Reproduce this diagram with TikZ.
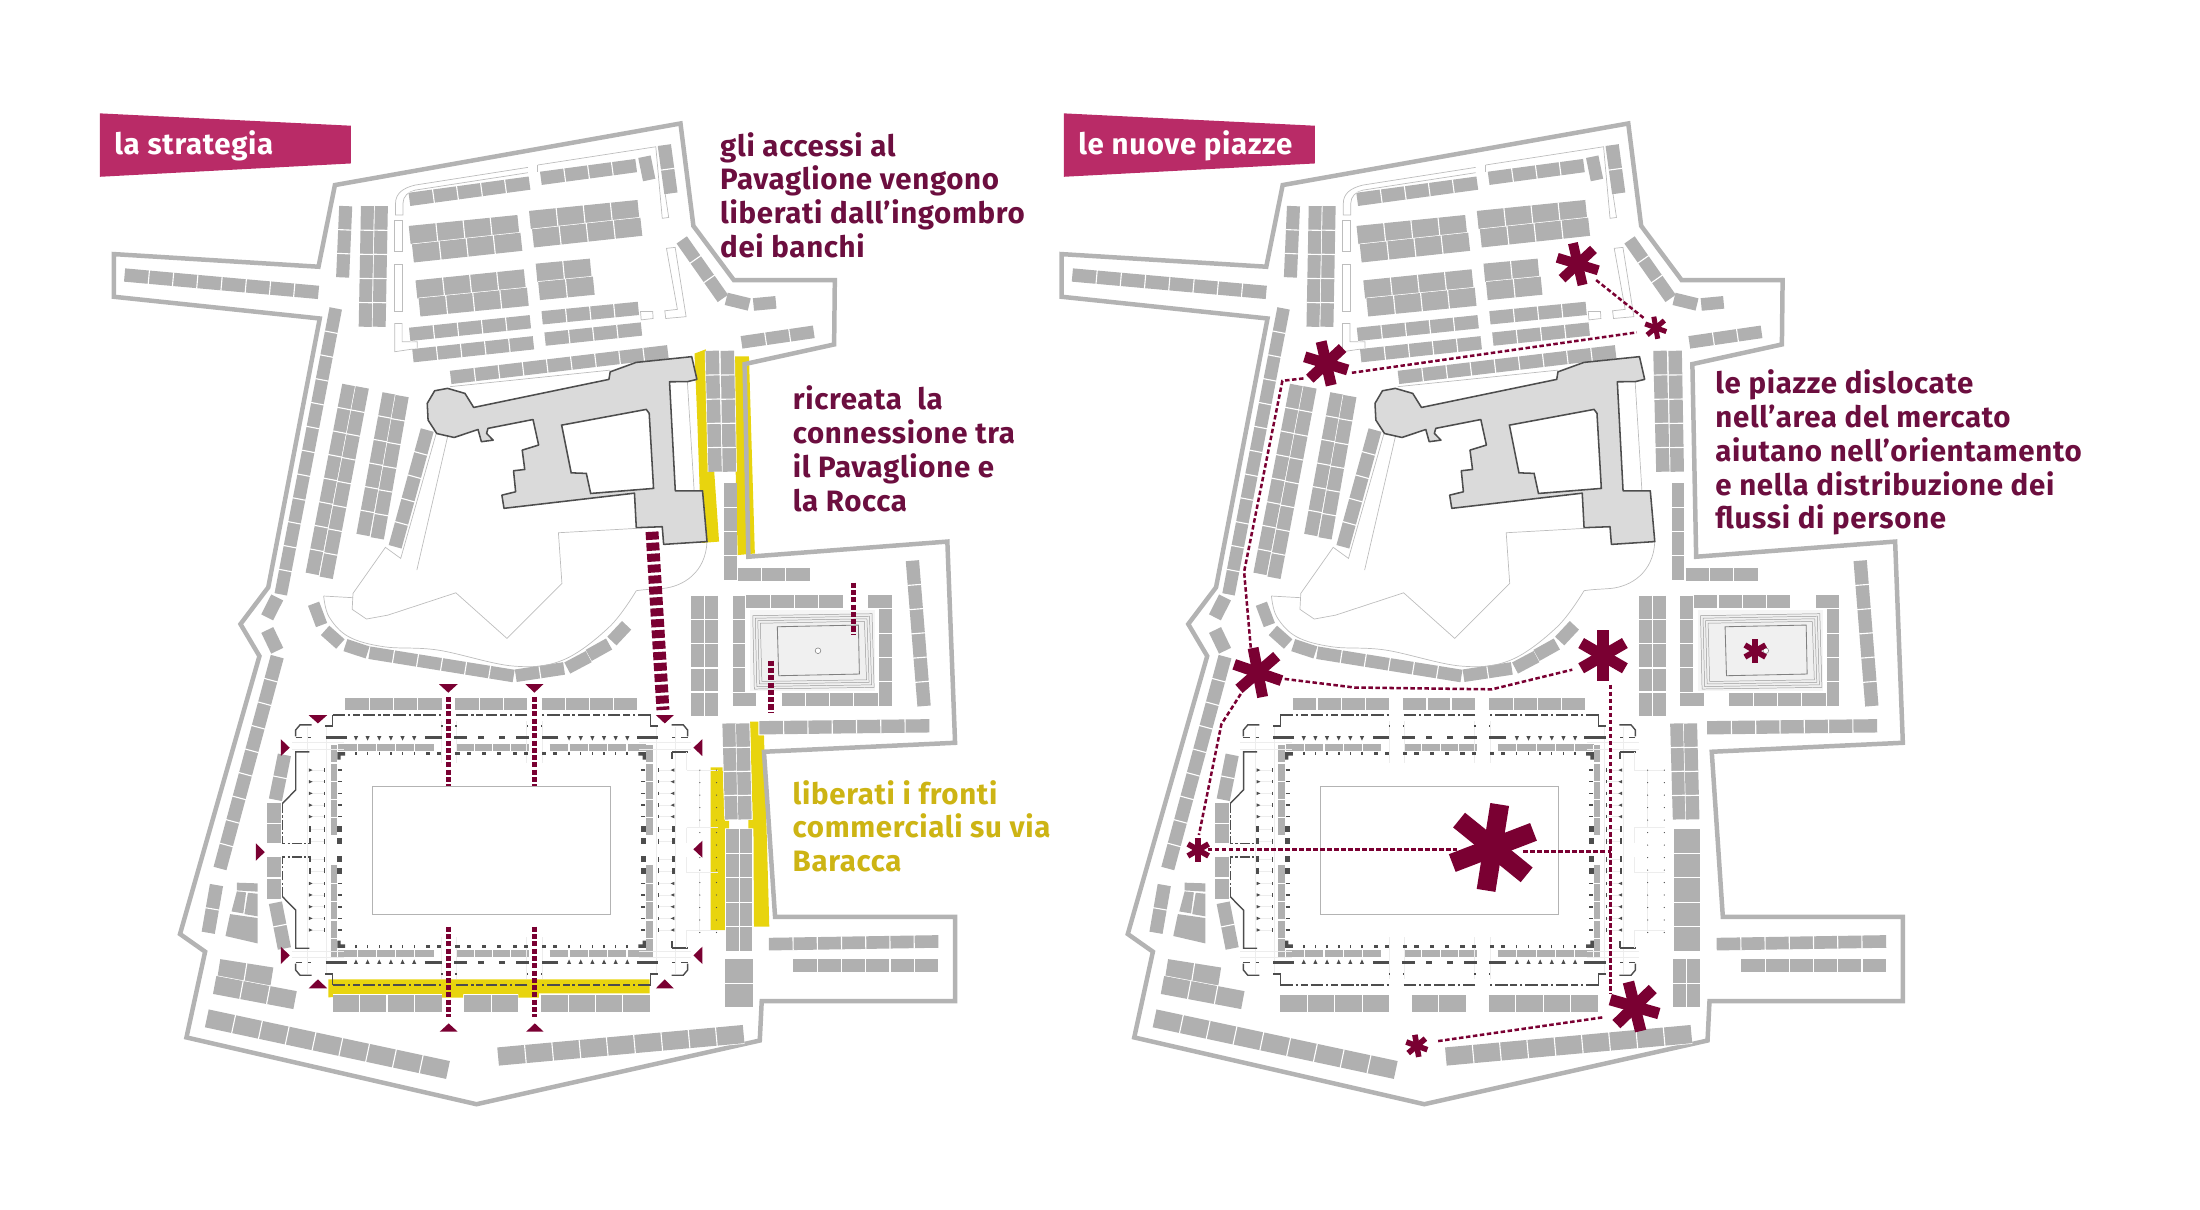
\documentclass[tikz,border=0pt]{standalone}
\usepackage{fontspec}
\setmainfont{Fira Sans}[LetterSpace=2.3]
\definecolor{wallc}{HTML}{B3B3B3}
\definecolor{stallc}{HTML}{B0B0B0}
\definecolor{bldc}{HTML}{DADADA}
\definecolor{darkc}{HTML}{4D4D4D}
\definecolor{redc}{HTML}{7A0032}
\definecolor{tagc}{HTML}{B92B67}
\definecolor{txtc}{HTML}{6C0E3F}
\definecolor{goldc}{HTML}{CDB414}
\definecolor{yelc}{HTML}{E8D40E}
\definecolor{thinc}{HTML}{BDBDBD}
\definecolor{faintc}{HTML}{EDEDED}
\tikzset{
 wallline/.style={draw=wallc,line width=3.2,line join=miter},
 thinline/.style={draw=thinc,line width=.5},
 boxline/.style={draw=thinc,line width=.5,fill=white},
 faintline/.style={draw=faintc,line width=.5},
 darkdash/.style={draw=darkc,line width=1,dash pattern=on 9pt off 2pt on 1.6pt off 2pt on 5pt off 2pt},
 darkline/.style={draw=darkc,line width=1},
 thickbar/.style={draw=darkc,line width=2},
 bigdash/.style={draw=redc,line width=9.2,dash pattern=on 5.7pt off 2.1pt},
 meddash/.style={draw=redc,line width=3.7,dash pattern=on 3.6pt off 1.6pt},
 route/.style={draw=redc,line width=1.8,dash pattern=on 3.2pt off 1.8pt},
 txtline/.style={anchor=base west,inner sep=0pt,xshift=-.6pt,yshift=-.7pt,font=\fontsize{21}{24}\selectfont\bfseries},
}
\newcommand\srow[6]{%
 \draw[white,line width={#6+1}] (#1,#2)--(#3,#4);
 \draw[stallc,line width=#6] (#1,#2)--(#3,#4);
 \pgfmathtruncatemacro\nm{#5-1}%
 \ifnum\nm>0
 \pgfmathsetmacro\rlen{veclen(#3-#1,#4-#2)}%
 \pgfmathsetmacro\perx{-(#4-#2)/\rlen*(#6/2+.3)}%
 \pgfmathsetmacro\pery{(#3-#1)/\rlen*(#6/2+.3)}%
 \foreach \k in {1,...,\nm}{%
  \pgfmathsetmacro\ptx{#1+(#3-#1)*\k/#5}%
  \pgfmathsetmacro\pty{#2+(#4-#2)*\k/#5}%
  \draw[white,line width=.8] (\ptx-\perx,\pty-\pery)--(\ptx+\perx,\pty+\pery);
 }%
 \fi
}
\newcommand\astk[5]{%
 \foreach \a in {0,60,120}{%
  \pgfmathsetmacro\ax{#3*sin(#5+\a)}%
  \pgfmathsetmacro\ay{#3*cos(#5+\a)}%
  \draw[redc,line width=#4] (#1+\ax,#2-\ay)--(#1-\ax,#2+\ay);
 }%
}
\newcommand\marketq{%
 \foreach \sx in {1,-1}{\foreach \sy in {1,-1}{%
 \begin{scope}[shift={(350.4,605.85)},xscale=\sx,yscale=\sy]
  % faint corridors
  \foreach \d in {-57,-48.7,-40.4,-32,-23.8,-14.9,-6.4}{\draw[faintline] (-129,\d)--(-119,\d);}
  \draw[faintline] (-131,-88)--(-131,0) (-117.5,-88)--(-117.5,0);
  \draw[faintline] (-142,-76.5)--(-105,-76.5) (-142,-72)--(-105,-72);
  \draw[faintline] (-36,-92)--(-36,-62) (-25,-92)--(-25,-62);
  % outer dash-dot line
  \draw[darkdash] (-113.4,-96.15)--(-35.7,-96.15);
  \draw[darkdash] (-25.5,-96.15)--(0,-96.15);
  \draw[darkline] (-113.4,-96.15)--(-113.4,-88.3)--(-118.8,-88.3);
  \draw[darkline] (-139.7,-81)--(-139.7,-85.5)--(-136.6,-89.2)--(-128.3,-89.2);
  \draw[darkline] (-139.7,-80.2)--(-135,-80.2) (-131,-80.2)--(-128.5,-80.2);
  \draw[darkline] (-36,-88.3)--(-35,-88.3) (-26,-88.3)--(-25,-88.3);
  % thick bars
  \draw[thickbar] (-118.4,-80.25)--(-103.4,-80.25) (-47.5,-80.25)--(-35.6,-80.25) (-26.7,-80.25)--(-17.4,-80.25) (-9.5,-80.25)--(-5.5,-80.25);
  \foreach \k in {0,...,5}{
   \fill[darkc] (-98.2+8.3*\k,-81.2)--(-95.2+8.3*\k,-81.2)--(-96.7+8.3*\k,-78)--cycle;
   \draw[darkline] (-96.6+8.3*\k,-70)--(-96.6+8.3*\k,-67.5);
  }
  % inner ring
  \fill[darkc] (-110,-69.8)--(-104.5,-69.8)--(-104.5,-67.3)--(-107.6,-67.3)--(-107.6,-64.5)--(-110,-64.5)--cycle;
  \foreach \d in {-45.4,-37.4,-24.4,-16.4,-5.4}{\fill[darkc] (\d-1.5,-70)rectangle(\d+1.5,-67.6);}
  \foreach \d in {-57,-48.7,-40.4,-32,-23.8}{
   \draw[darkc,line width=1.1] (-109.6,\d)--(-106.6,\d);
   \fill[darkc] (-130.2,\d-1.2)--(-130.2,\d+1.2)--(-127.6,\d)--cycle;
   \draw[darkc,line width=.8] (-119,\d-1.2)--(-119,\d+1.2);
  }
  \foreach \d in {-14.9,-6.4}{
   \fill[darkc] (-110,\d-2)rectangle(-106.8,\d+2);
   \fill[darkc] (-130.4,\d-2)rectangle(-128.6,\d+2);
   \draw[darkc,line width=.8] (-119,\d-1.8)--(-119,\d+1.8);
  }
 \end{scope}}}%
 % west wall
 \foreach \sy in {1,-1}{%
 \begin{scope}[shift={(350.4,605.85)},yscale=\sy]
  \draw[darkline] (-129.9,-70)--(-139.6,-70)--(-139.6,-42.9)--(-149,-33.3);
  \draw[darkc,line width=.9,dash pattern=on 7pt off 1.6pt on 1.5pt off 1.6pt] (-149,-33.3)--(-149,-4.9)--(-130,-4.9);
  \draw[darkc,line width=1.1] (128.6,-70)--(140,-70) (128.6,-70)--(128.6,-65);
  \draw[faintline] (139,-57)--(161,-57) (139,-57)--(139,-70) (148,-57)--(148,-16) (139,-16)--(148,-16) (139,-16)--(139,-5) (148,-16)--(161,-16);
 \end{scope}}%
 \foreach \k in {0,...,13}{%
  \fill[darkc] (498.8,548.9+8.9*\k) circle (.45);
  \fill[darkc] (510.7,548.9+8.9*\k) circle (.45);
 }%
 \draw[draw=wallc,line width=.8] (265.6,560.3) rectangle (435.1,651.7);
}
\newcommand\plan{%
 % outer wall
 \draw[wallline] (238.7,131.9)--(485,88)--(494.2,161)--(523,199.6)--(595,199.6)--(594.5,245.5)--(530.7,259.5)--(533.4,396.8)--(675.2,386)--(680.7,529.4)--(544.5,535.8)--(552.4,653.4)--(680.7,653.4)--(680.7,713.5)--(542.9,713.5)--(541.5,741.6)--(339.6,787)--(132.9,739.4)--(146.2,678.3)--(128.3,665.7)--(184.9,467.6)--(171.4,444.8)--(191.2,418.6)--(227.9,227)--(81.1,211.5)--(81.1,181.1)--(227,190.1)--cycle;
 % thin north-market outlines
 \draw[boxline] (376.2,119.3)--(295.9,131.9)..controls (287,134) and (281.9,138)..(281.9,145)--(281.9,153.3)--(287.2,153.3)--(287.2,145)..controls (287.2,140) and (291,136.5)..(295.9,135.5)--(376.2,123.1);
 \draw[thinline] (383.3,117.6)--(467.4,104.6)--(472,155.6)--(476.6,155)--(473.5,134.3);
 \draw[thinline] (383.3,117.6)--(383.3,122.4);
 \draw[boxline] (281.3,156.8) rectangle (286.9,179.4);
 \draw[boxline] (281.3,188.2) rectangle (286.6,222.2);
 \draw[boxline] (281.3,230.5)--(286.6,230.5)--(286.6,243.6)--(297.4,243.6)--(297.4,248.3)--(281.3,250.7)--cycle;
 \draw[boxline] (475,177)--(481.2,176.3)--(489,225.7)--(474.5,227)--(473.8,221.5)--(482.8,220.5)--cycle;
 \draw[boxline] (456.5,222)--(465.2,222)--(465.5,227)--(457,228)--cycle;
 \draw[thinline] (320.6,275.6)--(434.9,263.8);
 % stalls north
 \srow{88.8}{196}{227}{208.4}{8}{9.5}
 \srow{246.4}{146.9}{244.2}{197.7}{3}{9.3}
 \srow{261.9}{146.9}{260.3}{232.9}{5}{9.3}
 \srow{271.8}{146.9}{270.2}{232.9}{5}{9.3}
 \srow{291.8}{142.1}{377.4}{130.5}{5}{9.5}
 \srow{385.5}{127.1}{453.4}{118}{4}{9.5}
 \srow{459.3}{111.7}{462.7}{128.3}{1}{9}
 \srow{473.5}{103.4}{478.2}{137.8}{2}{9.5}
 \srow{292}{167.5}{369.4}{159.7}{4}{13}
 \srow{294.3}{180.6}{371.6}{172.3}{4}{13}
 \srow{377.7}{156.8}{455}{149}{4}{13}
 \srow{379.9}{169.9}{457.1}{161.6}{4}{13}
 \srow{296.8}{206.3}{374}{198.4}{4}{13}
 \srow{299}{219.1}{376.2}{211.5}{4}{13}
 \srow{382.4}{194.4}{421}{190.8}{2}{13}
 \srow{384.2}{207.4}{423.2}{203.6}{2}{13}
 \srow{292}{238.3}{378}{229.3}{5}{9.5}
 \srow{294.3}{253.5}{380.2}{244.3}{5}{9.5}
 \srow{386.4}{226.5}{455}{219.8}{4}{9.5}
 \srow{388.5}{241.7}{457.2}{234.5}{4}{9.5}
 \srow{321.2}{269}{476}{250.7}{9}{9.5}
 \srow{485.9}{171}{515.2}{212.7}{3}{9}
 \srow{517.6}{213}{534}{217}{1}{9}
 \srow{537}{217}{553}{215.5}{1}{9}
 \srow{528.5}{244}{580}{236.5}{3}{9}
 % stalls west
 \srow{239.3}{219.8}{200.1}{423.6}{12}{9}
 \srow{248.6}{274.4}{222.5}{409}{8}{9.5}
 \srow{258.2}{276.1}{232.5}{411.8}{8}{9.5}
 \srow{277.3}{280.4}{258.7}{381.3}{6}{9.5}
 \srow{286.6}{282.3}{268.9}{383.7}{6}{9.5}
 \srow{304.5}{306.5}{281.6}{389.7}{5}{9.5}
 \srow{197.6}{425.8}{190.4}{440}{1}{9.5}
 \srow{190.5}{449}{197.6}{463.8}{1}{9.5}
 \srow{197.6}{468}{156.8}{619}{9}{9.5}
 \srow{154.3}{630.8}{148.4}{664.8}{2}{9.5}
 \fill[stallc] (168.8,629.1)--(183.6,629.6)--(183.6,635.5)--(168.8,634.6)--cycle;
 \fill[stallc] (168.8,635.3)--(175.4,636)--(173.4,651)--(165,649.6)--cycle;
 \fill[stallc] (176.7,636.3)--(183.6,637)--(183.6,653.1)--(174.2,651.5)--cycle;
 \fill[stallc] (164,651.5)--(183.6,654.3)--(183.6,672.4)--(160.7,667.1)--cycle;
 \srow{156}{690}{193.8}{696}{2}{13}
 \srow{153}{702}{210.3}{712.8}{3}{13}
 \srow{147.4}{725.8}{319.3}{762.6}{9}{13}
 \srow{355}{753}{530}{737}{9}{13}
 % curved row south of the park
 \srow{223.5}{430.3}{229.2}{445.5}{1}{8.5}
 \srow{231.7}{449.3}{242.6}{459}{1}{9}
 \srow{246.2}{459.8}{262}{465}{1}{9}
 \srow{263.3}{465.2}{366.1}{481.8}{6}{9}
 \srow{367.6}{481.6}{402}{476.4}{2}{9}
 \srow{404.3}{476.1}{419.6}{468}{1}{9}
 \srow{419.6}{467.1}{434.1}{459}{1}{9}
 \srow{436.1}{456.9}{446.6}{445.7}{1}{9}
 % Piazza stalls
 \srow{246}{501.8}{314.7}{501.8}{4}{8.8}
 \srow{324.4}{501.8}{375.8}{501.8}{3}{8.8}
 \srow{386}{501.8}{454.2}{501.8}{4}{8.8}
 \srow{237}{715}{314.7}{715}{4}{12.4}
 \srow{330.7}{715}{369.4}{715}{2}{12.4}
 \srow{385.5}{715}{463.1}{715}{4}{12.4}
 \srow{240.9}{532.7}{309.1}{532.7}{5}{4.5}
 \srow{324.9}{532.7}{377}{532.7}{4}{4.5}
 \srow{391.8}{532.7}{460.6}{532.7}{5}{4.5}
 \srow{240.9}{679.5}{309.1}{679.5}{5}{4.5}
 \srow{324.9}{679.5}{377}{679.5}{4}{4.5}
 \srow{391.8}{679.5}{460.6}{679.5}{5}{4.5}
 \srow{238}{531}{238}{595.2}{5}{4.6}
 \srow{238}{616.5}{238}{681.9}{5}{4.6}
 \srow{462.9}{531}{462.9}{595.2}{5}{4.6}
 \srow{462.9}{616.5}{462.9}{681.9}{5}{4.6}
 \srow{202.7}{538}{196.3}{570}{2}{9.5}
 \srow{195.5}{572.6}{195.5}{601}{2}{10}
 \srow{195.5}{610.6}{195.5}{641}{2}{10}
 \srow{196.3}{643.4}{202.7}{676}{2}{9.5}
 % stalls east
 \srow{497.2}{424.6}{497.2}{510.4}{5}{9}
 \srow{507.2}{424.6}{507.2}{510.4}{5}{9}
 \srow{507.6}{250}{509.7}{336.2}{5}{9.6}
 \srow{518.4}{250}{519.9}{336.2}{5}{9.6}
 \srow{520.5}{344.5}{520.5}{413.4}{4}{9}
 \srow{525.8}{409.4}{577.3}{409.4}{3}{9}
 \srow{526.7}{424.6}{526.7}{493}{4}{9}
 \srow{531.7}{428.9}{600.6}{428.9}{4}{9}
 \srow{618.9}{428.9}{635.5}{428.9}{1}{9}
 \srow{631}{434}{631}{503}{4}{9}
 \srow{522.2}{498.5}{538.8}{498.5}{1}{9}
 \srow{557}{498.5}{625.6}{498.5}{4}{9}
 \srow{650.3}{399.6}{658.6}{503.2}{6}{9.5}
 \srow{541.2}{518.7}{662.4}{517.3}{7}{9.5}
 \srow{519.6}{515.6}{521.5}{584}{4}{9.5}
 \srow{529.3}{515.6}{531}{584}{4}{9.5}
 \srow{522.2}{591.1}{522.2}{677.6}{5}{9}
 \srow{531.7}{591.1}{531.7}{677.6}{5}{9}
 \srow{521.7}{683.8}{521.7}{717.6}{2}{9.5}
 \srow{531.7}{683.8}{531.7}{717.6}{2}{9.5}
 \srow{548}{672.9}{668.8}{671}{7}{9}
 \srow{565.4}{688.1}{668.8}{688.1}{6}{9}
 % park outlines
 \draw[thinline] (453.5,376.6)--(398,379.7)--(400.5,415.8)--(361.3,455)--(324.9,422.5)--(276.5,438.4)--(261.2,441.2)--(251,434.3)--(251.6,422.9)--(274.7,390.1)--(285.6,398)--(310.9,308.9);
 \draw[thinline] (297.1,406.3)--(319,311.3);
 \draw[thinline] (489.9,272)--(494.7,349.3);
 \draw[thinline] (230.7,424.8)--(251.6,426);
 \draw[thinline] plot[smooth,tension=.6] coordinates {(230.7,424.8)(234.5,439.6)(248.5,453.8)(274,461)(312,463.3)(365.6,474.7)(401.3,470.4)(434.4,446.7)(453.5,421)};
 \draw[thinline] (453.5,421)..controls (460,420) and (465,420)..(472.5,419.4)..controls (487,418) and (503,408)..(503.9,386);
 % Pavaglione
 \draw[fill=bldc,draw=darkc,line width=1.1,line join=round] (337.6,290.4)--(331.4,280.4)--(319,276.8)--(309.8,278.5)--(304.5,287.5)--(305.1,299.4)--(311.3,309)--(323.7,311.8)--(340.7,306.1)--(343.1,314.8)--(351.5,313.7)--(346.8,308.9)--(347.8,305.3)--(379.9,299)--(383.9,317.2)--(372.2,320.8)--(374,334.6)--(366,335.5)--(367.5,350.5)--(357.7,352.9)--(359.2,362.3)--(452.2,351.5)--(453.5,376.1)--(472,375.4)--(473,388)--(503.9,386)--(500.7,349.8)--(481.3,349.8)--(477.2,272.1)--(490,272)--(496.7,270.4)--(493,254.2)--(453.4,258.3)--(434.9,265)--(434,270.4)--cycle;
 \draw[fill=white,draw=darkc,line width=1.1] (400.3,303)--(460.6,291.8)--(462.7,294.6)--(465.8,348.1)--(421,351.7)--(417.9,337.4)--(407.1,337)--cycle;
 \draw[draw=darkc,line width=.4] (421,351.7)--(452.5,349.2);
 % fountain
 \fill[gray!8] (534.6,434.8) rectangle (623.7,492.3);
 \foreach \d in {0,1.8,3.6,5.4}{
  \draw[draw=gray!80,line width=.35,fill=gray!12] (536.5+\d,438.8+\d)--(621.5-\d,437.4+\d)--(623-\d,489.9-\d)--(537.6+\d,491.1-\d)--cycle;
 }
 \draw[draw=gray,line width=.6] (554,446.7)--(611.8,445.5)--(612.5,480.4)--(555,481.6)--cycle;
 \draw[draw=gray,line width=.4,fill=white] (583,463.8) circle (2);
 \marketq
}
\newcommand\rtri[6]{\fill[redc] (#1,#2)--(#3,#4)--(#5,#6)--cycle;}
\begin{document}
\begin{tikzpicture}[x=1pt,y=-1pt]
\useasboundingbox (0,0) rectangle (1568,861.7);
% left plan
\fill[yelc] (495,252)--(503,249)--(512.5,386)--(500,387)--(497,300)--cycle;
\fill[yelc] (522.3,254)--(533.8,254)--(538,394.5)--(525.8,395.6)--cycle;
\fill[yelc] (506.5,547)--(515,547)--(516.7,585)--(519.6,585)--(519.6,590.4)--(516.7,590.4)--(516.7,662.9)--(506.5,662.9)--cycle;
\fill[yelc] (534.6,514.4)--(540.5,514.4)--(540.5,524.1)--(544.5,524.1)--(548.3,660.5)--(537.4,660.5)--(537,590.4)--(533.4,590.4)--(533.4,584.5)--(536.5,584.5)--cycle;
\fill[yelc] (234,698)--(463,698)--(463,708)--(384,708)--(384,711)--(369.4,711)--(369.4,708.5)--(330,708.5)--(330,711)--(315,711)--(315,708.5)--(234,710.8)--cycle;
\plan
\draw[bigdash] (464.7,379)--(472.5,506);
\draw[meddash] (319.7,496.6)--(319.7,560.3);
\draw[meddash] (381,496.6)--(381,560.3);
\draw[meddash] (319.7,660.5)--(319.7,724.6);
\draw[meddash] (381,660.5)--(381,724.6);
\draw[meddash] (608.4,415.3)--(608.4,451.9);
\draw[meddash] (549.5,470.9)--(549.5,507.5);
\rtri{312.9}{487.6}{326.2}{487.6}{319.5}{493.7}
\rtri{374.5}{487.6}{387.3}{487.6}{380.9}{493.7}
\rtri{220}{509.7}{233.2}{509.7}{226.6}{515.6}
\rtri{467.5}{509.7}{480.2}{509.7}{473.8}{515.6}
\rtri{200.1}{526.8}{200.1}{538.9}{206.5}{532.9}
\rtri{182.3}{601}{182.3}{613.5}{188.7}{607.3}
\rtri{500.6}{526.8}{500.6}{538.9}{494.2}{532.9}
\rtri{500.6}{599.2}{500.6}{611.3}{494.2}{605.3}
\rtri{200.1}{674.7}{200.1}{687.1}{206.5}{680.9}
\rtri{500.6}{674.7}{500.6}{687.1}{494.2}{680.9}
\rtri{220}{704.4}{233.2}{704.4}{226.6}{698}
\rtri{467.5}{704.4}{480.2}{704.4}{473.8}{698}
\rtri{313.4}{735.3}{326.2}{735.3}{319.8}{729.4}
\rtri{375}{735.3}{387.5}{735.3}{381.2}{729.4}
% right plan
\begin{scope}[shift={(675.5,0)}]
\plan
\end{scope}
\draw[route] (860.9,605.3)--(1038.6,605.3);
\draw[route] (1085.7,606.9)--(1148,606.9);
\draw[route] (1148,488)--(1148,708.4);
\draw[route] (915.6,483.9)--(965.3,490)--(1063.3,491.3)--(1120.6,477.3);
\draw[route] (1025,742)--(1143,725);
\draw[route] (884.3,494.6)--(870.5,516.2)--(854.5,595.1);
\draw[route] (929,269.7)--(914,271.4)--(886.7,407.5)--(891.5,462.2);
\draw[route] (963.5,265.7)--(1166.6,236.9);
\draw[route] (1137.6,199.6)--(1171.8,226.9);
\astk{1064}{604}{31}{13.5}{9}
\astk{896.5}{479.3}{17.8}{7.8}{-11}
\astk{1142.5}{467.3}{18}{8.2}{0}
\astk{1165}{717.4}{18}{8.2}{-14}
\astk{854}{605.8}{8.5}{4}{0}
\astk{1009.8}{745.4}{8}{4}{-10}
\astk{1124.5}{188.2}{15.3}{7.1}{-13}
\astk{1180.1}{233.6}{8}{3.6}{-10}
\astk{945.2}{259}{16}{7.8}{-13}
\astk{1251}{464}{8.5}{4}{0}
% tags
\fill[tagc] (71.2,80.8)--(250.1,89.6)--(250.1,116.5)--(71.2,126)--cycle;
\fill[tagc] (758.2,80.8)--(937.1,89.6)--(937.1,116.5)--(758.2,126)--cycle;
\node[txtline,text=white] (taga) at (82,109.3) {la strategia};
\node[txtline,text=white] (tagb) at (769,109.3) {le nuove piazze};
% texts
\node[txtline,text=txtc] (a1) at (513.7,110.5) {gli accessi al};
\node[txtline,text=txtc] (a2) at (513.7,134.7) {Pavaglione vengono};
\node[txtline,text=txtc] (a3) at (513.7,158.9) {liberati dall’ingombro};
\node[txtline,text=txtc] (a4) at (513.7,183) {dei banchi};
\node[txtline,text=txtc] (b1) at (565.5,291.5) {ricreata\ \ la};
\node[txtline,text=txtc] (b2) at (565.5,315.7) {connessione tra};
\node[txtline,text=txtc] (b3) at (565.5,339.9) {il Pavaglione e};
\node[txtline,text=txtc] (b4) at (565.5,364) {la Rocca};
\node[txtline,text=goldc] (c1) at (565.4,572.6) {liberati i fronti};
\node[txtline,text=goldc] (c2) at (565.4,596.4) {commerciali su via};
\node[txtline,text=goldc] (c3) at (565.4,620.1) {Baracca};
\node[txtline,text=txtc] (d1) at (1223,279.5) {le piazze dislocate};
\node[txtline,text=txtc] (d2) at (1223,303.7) {nell’area del mercato};
\node[txtline,text=txtc] (d3) at (1223,327.9) {aiutano nell’orientamento};
\node[txtline,text=txtc] (d4) at (1223,352.1) {e nella distribuzione dei};
\node[txtline,text=txtc] (d5) at (1223,376.3) {flussi di persone};
\end{tikzpicture}
\end{document}
